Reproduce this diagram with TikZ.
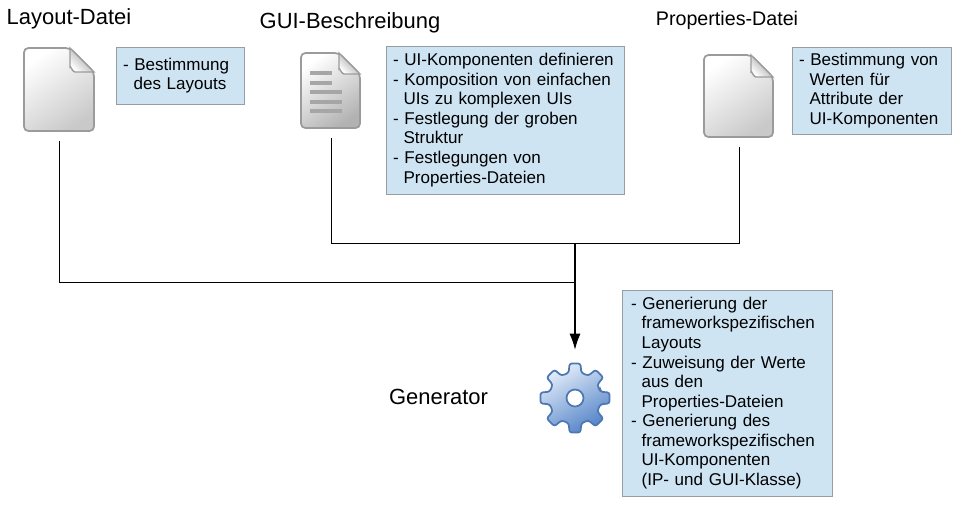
\documentclass[tikz,border=0pt]{standalone}
\usepackage{fontspec}
\setmainfont{Liberation Sans}
\usetikzlibrary{arrows.meta}

\definecolor{boxblue}{RGB}{206,228,243}
\definecolor{boxgray}{RGB}{150,158,163}
\definecolor{docgray}{RGB}{155,155,155}
\definecolor{geardark}{RGB}{78,120,178}
\definecolor{gearlight}{RGB}{228,237,249}
\definecolor{gearmid}{RGB}{84,132,200}

\newcommand{\cont}{\hspace*{0.62em}}

% page icon: left, top, right, bottom, fold size, bottom colour
\newcommand{\docicon}[6]{
\draw[docgray, line width=1pt, rounded corners=2.5pt, top color=white, bottom color=#6, shading angle=35]
  (#1,#2) -- (#3-#5,#2) -- (#3,#2+#5) -- (#3,#4) -- (#1,#4) -- cycle;
\draw[docgray, line width=0.8pt, top color=gray!85, bottom color=white, shading angle=-45]
  (#3-#5,#2) -- (#3,#2+#5) -- (#3-#5+5,#2+#5) to[out=180,in=90] (#3-#5,#2+#5-5) -- cycle;
}

\tikzset{
  title/.style={font=\fontsize{12.5pt}{14pt}\selectfont, inner sep=0pt},
  infobox/.style={draw=boxgray, fill=boxblue, line width=0.55pt, align=left,
    font=\fontsize{9.7pt}{11.15pt}\selectfont, inner xsep=0.14cm, inner ysep=0pt},
  iconbox/.style={inner sep=0pt},
  wire/.style={line width=0.5pt},
  bar/.style={line width=2.2pt, color=gray!70}
}

\begin{document}
\begin{tikzpicture}[x=0.02cm,y=-0.02cm]
\useasboundingbox (0,0) rectangle (957,514);

\node[title] (layouttitle) at (69,19) {Layout-Datei};
\node[title] (guititle) at (350,23) {GUI-Beschreibung};
\node[title, font=\fontsize{11.2pt}{14pt}\selectfont] (proptitle) at (727,20) {Properties-Datei};
\node[title] (gentitle) at (438.5,397) {Generator};

\docicon{24}{48}{94}{131}{24}{gray!42}
\docicon{301}{53}{360}{128}{21}{gray!60}
\docicon{704}{55}{773}{137}{22}{gray!42}

% lines on the GUI page
\foreach \ypos/\xend in {73/332,83/332,92/342,102/342,111/342}
  \draw[bar] (310,\ypos) -- (\xend,\ypos);

\node[iconbox, minimum width=1.4cm, minimum height=1.66cm] (layoutdoc) at (59,89.5) {};
\node[iconbox, minimum width=1.18cm, minimum height=1.5cm] (guidoc) at (331,90.5) {};
\node[iconbox, minimum width=1.38cm, minimum height=1.64cm] (propdoc) at (739,96) {};

\node[infobox, text width=2.28cm, minimum height=1.14cm] (layoutbox) at (180,75.5)
  {- Bestimmung\\\cont des Layouts};
\node[infobox, text width=4.5cm, minimum height=2.96cm] (guibox) at (505.5,120)
  {- UI-Komponenten definieren\\- Komposition von einfachen\\\cont UIs zu komplexen UIs\\- Festlegung der groben\\\cont Struktur\\- Festlegungen von\\\cont Properties-Dateien};
\node[infobox, text width=2.9cm, minimum height=1.74cm] (propbox) at (871.5,90.5)
  {- Bestimmung von\\\cont Werten für\\\cont Attribute der\\\cont UI-Komponenten};
\node[infobox, inner xsep=0.18cm, text width=3.84cm, minimum height=4.12cm] (genbox) at (727,393)
  {- Generierung der\\\cont frameworkspezifischen\\\cont Layouts\\- Zuweisung der Werte\\\cont aus den\\\cont Properties-Dateien\\- Generierung des\\\cont frameworkspezifischen\\\cont UI-Komponenten\\\cont (IP- und GUI-Klasse)};

% gear
\draw[geardark, line width=1pt, rounded corners=1.4pt, top color=gearlight, bottom color=gearmid, shading angle=30]
  ([shift={(575,398)}]-14:26)
  \foreach \ang in {0,45,...,315} {
    -- ([shift={(575,398)}]\ang-9:35) -- ([shift={(575,398)}]\ang+9:35)
    -- ([shift={(575,398)}]\ang+14:26) -- ([shift={(575,398)}]\ang+31:26)
  } -- cycle;
\draw[geardark, line width=1pt, fill=white] (575,398) circle[radius=8.5];
\node[iconbox, minimum size=1.4cm] (gear) at (575,398) {};

\coordinate (upperjoin) at (575,243);
\coordinate (lowerjoin) at (575,282);

\draw[wire, shorten <=0.2cm] (layoutdoc.south) |- (lowerjoin);
\draw[wire, shorten <=0.2cm] (guidoc.south) |- (upperjoin);
\draw[wire, shorten <=0.2cm] (propdoc.south) |- (upperjoin);
\draw[-{Latex[length=0.32cm,width=0.22cm]}, line width=0.6pt, shorten >=0.26cm] (upperjoin) -- (gear.north);
\end{tikzpicture}
\end{document}
